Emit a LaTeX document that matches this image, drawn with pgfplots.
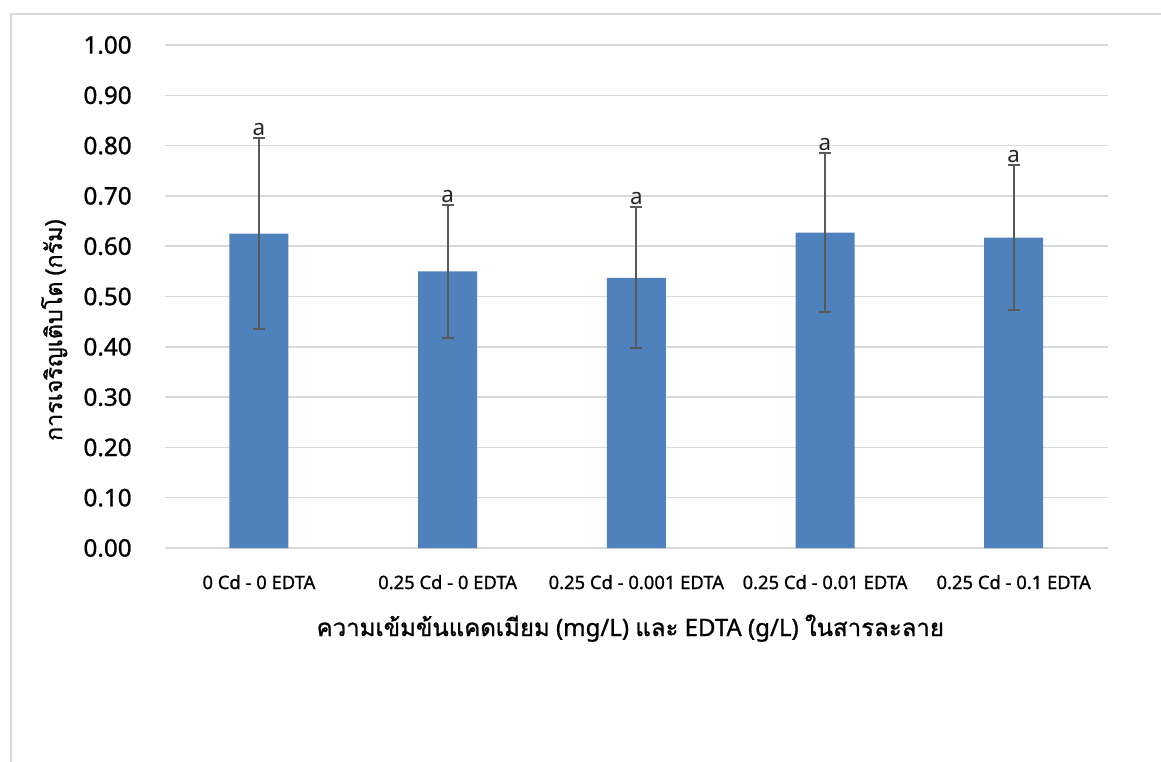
\documentclass[border=0pt]{standalone}
\usepackage{pgfplots}
\pgfplotsset{compat=1.18}
\usepackage{fontspec}
\setmainfont{Noto Sans}
\newfontfamily\semib{Noto Sans}[FakeBold=1.0]
\newfontfamily\thai[Script=Thai,FakeBold=1.0]{Loma}
\definecolor{barblue}{RGB}{79,129,189}
\definecolor{gridgray}{RGB}{217,217,217}
\definecolor{errgray}{RGB}{89,89,89}
\begin{document}
\begin{tikzpicture}
\path[use as bounding box] (0,0) rectangle (870.75pt,-571.5pt);
\draw[gridgray, line width=1pt] (8.25pt,-571.5pt) -- (8.25pt,-10.5pt) -- (870.75pt,-10.5pt);
\begin{axis}[
  at={(123.45pt,-411pt)}, anchor=south west,
  scale only axis, width=707.6pt, height=377.25pt,
  xmin=-0.5, xmax=4.5, ymin=0, ymax=1,
  xtick={0,1,2,3,4},
  xticklabels={0 Cd - 0 EDTA, 0.25 Cd - 0 EDTA, 0.25 Cd - 0.001 EDTA, 0.25 Cd - 0.01 EDTA, 0.25 Cd - 0.1 EDTA},
  ytick={0,0.1,...,1.01},
  /pgf/number format/fixed, /pgf/number format/fixed zerofill, /pgf/number format/precision=2, /pgf/number format/assume math mode=true,
  ymajorgrids, grid style={gridgray, line width=1.1pt},
  axis line style={draw=none},
  major tick length=0pt,
  yticklabel style={font=\semib\fontsize{18.2pt}{20pt}\selectfont, anchor=east, inner sep=0pt, xshift=-24.5pt},
  xticklabel style={font=\semib\fontsize{13.8pt}{15pt}\selectfont, anchor=base, inner sep=0pt, yshift=-30.75pt},
  xlabel={{\thai ความเข้มข้นแคดเมียม} (mg/L) {\thai และ} EDTA (g/L) {\thai ในสารละลาย}},
  xlabel style={at={(axis description cs:0.4936,-0.175)}, anchor=base, inner sep=0pt, font=\semib\fontsize{18pt}{21pt}\selectfont},
  ylabel={{\thai การเจริญเติบโต} ({\thai กรัม})},
  ylabel style={at={(axis description cs:-0.117,0.433)}, anchor=center, inner sep=0pt, font=\semib\fontsize{17.5pt}{21pt}\selectfont},
  clip=false,
]
\addplot[ybar, bar width=44.25pt, fill=barblue, draw=none,
  error bars/.cd, y dir=both, y explicit,
  error bar style={line width=1.5pt, errgray},
  error mark options={rotate=90, mark size=4.5pt, line width=1.5pt, errgray}]
  coordinates {
    (0,0.625) +- (0,0.190)
    (1,0.550) +- (0,0.132)
    (2,0.537) +- (0,0.140)
    (3,0.627) +- (0,0.158)
    (4,0.617) +- (0,0.144)
  };
\addplot[draw=none, mark=none, nodes near coords={a},
  every node near coord/.append style={anchor=base, inner sep=0pt, yshift=2pt, font=\fontsize{16.8pt}{18pt}\selectfont, text=black!85}]
  coordinates {
    (0,0.815) (1,0.682) (2,0.677) (3,0.785) (4,0.761)
  };
\end{axis}
\end{tikzpicture}
\end{document}
